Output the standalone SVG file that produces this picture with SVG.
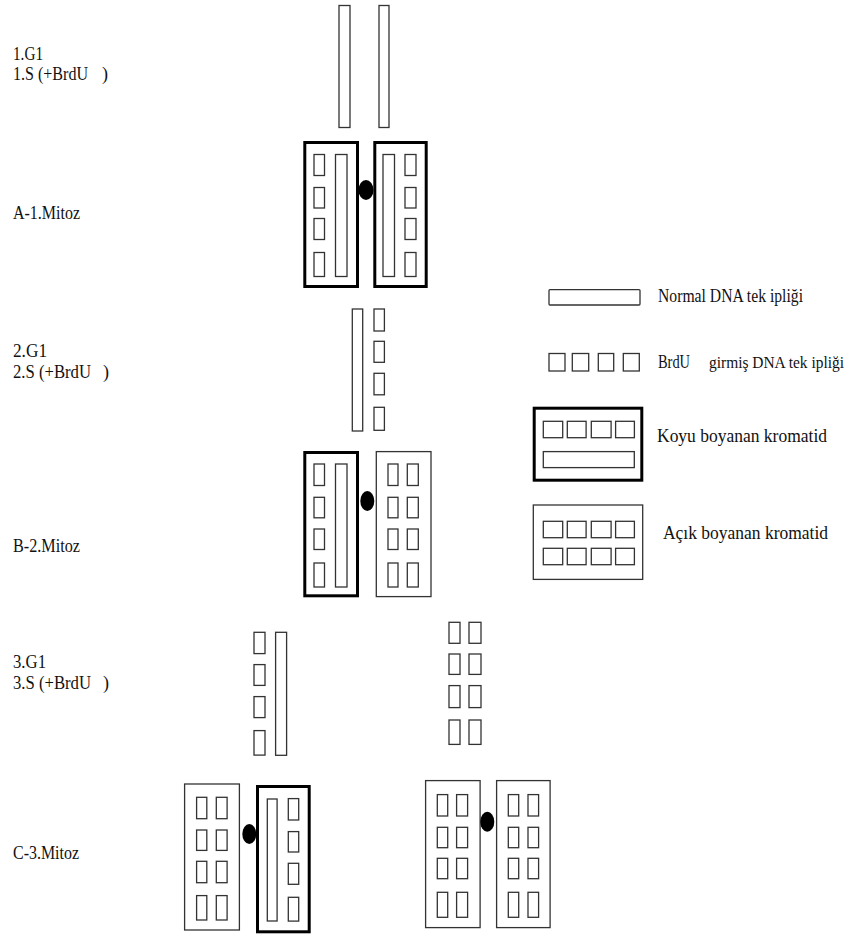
<svg xmlns="http://www.w3.org/2000/svg" width="851" height="935" viewBox="0 0 851 935">
<style>
.s{fill:#fff;stroke:#333;stroke-width:1.3}
.k{fill:#fff;stroke:#000;stroke-width:3}
.d{fill:#000}
text{font-family:"Liberation Serif","Times New Roman",serif;font-size:18px;fill:#111}
</style>
<rect width="851" height="935" fill="#fff"/>
<g id="labels">
<text x="13" y="60" textLength="30" lengthAdjust="spacingAndGlyphs">1.G1</text>
<text x="13" y="80"><tspan textLength="75" lengthAdjust="spacingAndGlyphs">1.S (+BrdU</tspan><tspan x="102">)</tspan></text>
<text x="13" y="219" textLength="67" lengthAdjust="spacingAndGlyphs">A-1.Mitoz</text>
<text x="13" y="357" textLength="34" lengthAdjust="spacingAndGlyphs">2.G1</text>
<text x="13" y="378"><tspan textLength="78" lengthAdjust="spacingAndGlyphs">2.S (+BrdU</tspan><tspan x="103">)</tspan></text>
<text x="13" y="552" textLength="67" lengthAdjust="spacingAndGlyphs">B-2.Mitoz</text>
<text x="13" y="668" textLength="33" lengthAdjust="spacingAndGlyphs">3.G1</text>
<text x="13" y="689"><tspan textLength="78" lengthAdjust="spacingAndGlyphs">3.S (+BrdU</tspan><tspan x="103">)</tspan></text>
<text x="13" y="859" textLength="66" lengthAdjust="spacingAndGlyphs">C-3.Mitoz</text>
</g>
<g id="stage1-strands">
<rect class="s" x="339" y="5.5" width="11" height="122"/>
<rect class="s" x="379" y="5.5" width="10" height="122"/>
</g>
<g id="mitoz-A1">
<rect class="k" x="304.8" y="142.5" width="52.7" height="144"/>
<rect class="s" x="314" y="154.5" width="10.5" height="21"/>
<rect class="s" x="314" y="187.5" width="10.5" height="20.5"/>
<rect class="s" x="314" y="218.5" width="10.5" height="21"/>
<rect class="s" x="314" y="252.5" width="10.5" height="24"/>
<rect class="s" x="335.5" y="154.5" width="11.5" height="122"/>
<rect class="k" x="374.8" y="142.5" width="51.4" height="144"/>
<rect class="s" x="383" y="154.5" width="11.5" height="122"/>
<rect class="s" x="405" y="154.5" width="11" height="21"/>
<rect class="s" x="405" y="187.5" width="11" height="20.5"/>
<rect class="s" x="405" y="218.5" width="11" height="21"/>
<rect class="s" x="405" y="252.5" width="11" height="24"/>
<ellipse class="d" cx="366" cy="190" rx="7.5" ry="10"/>
</g>
<g id="stage2-strands">
<rect class="s" x="352.3" y="309" width="10.4" height="122"/>
<rect class="s" x="374" y="309" width="10.4" height="22"/>
<rect class="s" x="374" y="341.3" width="10.4" height="21"/>
<rect class="s" x="374" y="373.3" width="10.4" height="21.5"/>
<rect class="s" x="374" y="407.3" width="10.4" height="23"/>
</g>
<g id="mitoz-B2">
<rect class="k" x="304.8" y="452.5" width="52.7" height="143.3"/>
<rect class="s" x="314" y="464" width="10.5" height="21.5"/>
<rect class="s" x="314" y="497.3" width="10.5" height="20.5"/>
<rect class="s" x="314" y="529" width="10.5" height="20.5"/>
<rect class="s" x="314" y="563" width="10.5" height="24"/>
<rect class="s" x="335.5" y="464" width="11.5" height="123"/>
<rect class="s" x="376.3" y="451.6" width="54.7" height="145"/>
<rect class="s" x="388" y="464" width="10" height="21.5"/>
<rect class="s" x="388" y="497.3" width="10" height="20.5"/>
<rect class="s" x="388" y="529" width="10" height="20.5"/>
<rect class="s" x="388" y="563" width="10" height="24"/>
<rect class="s" x="407.3" y="464" width="11" height="21.5"/>
<rect class="s" x="407.3" y="497.3" width="11" height="20.5"/>
<rect class="s" x="407.3" y="529" width="11" height="20.5"/>
<rect class="s" x="407.3" y="563" width="11" height="24"/>
<ellipse class="d" cx="367.3" cy="501" rx="7" ry="10"/>
</g>
<g id="stage3-strands-left">
<rect class="s" x="254" y="632.3" width="11" height="21.3"/>
<rect class="s" x="254" y="664.6" width="11" height="20.8"/>
<rect class="s" x="254" y="696.6" width="11" height="21"/>
<rect class="s" x="254" y="730.6" width="11" height="24.5"/>
<rect class="s" x="275.6" y="632.3" width="11" height="123"/>
</g>
<g id="stage3-strands-right">
<rect class="s" x="449" y="622.3" width="11" height="21"/>
<rect class="s" x="449" y="654" width="11" height="20.4"/>
<rect class="s" x="449" y="685.6" width="11" height="22"/>
<rect class="s" x="449" y="720" width="11" height="24.4"/>
<rect class="s" x="469" y="622.3" width="12" height="21"/>
<rect class="s" x="469" y="654" width="12" height="20.4"/>
<rect class="s" x="469" y="685.6" width="12" height="22"/>
<rect class="s" x="469" y="720" width="12" height="24.4"/>
</g>
<g id="mitoz-C3-left">
<rect class="s" x="184.6" y="784" width="54.8" height="146"/>
<rect class="s" x="196.6" y="797.3" width="10.2" height="21.4"/>
<rect class="s" x="196.6" y="830" width="10.2" height="20.4"/>
<rect class="s" x="196.6" y="861.3" width="10.2" height="21.4"/>
<rect class="s" x="196.6" y="895.6" width="10.2" height="24.4"/>
<rect class="s" x="216.3" y="797.3" width="10.8" height="21.4"/>
<rect class="s" x="216.3" y="830" width="10.8" height="20.4"/>
<rect class="s" x="216.3" y="861.3" width="10.8" height="21.4"/>
<rect class="s" x="216.3" y="895.6" width="10.8" height="24.4"/>
<rect class="k" x="257.5" y="786.5" width="51.7" height="145.3"/>
<rect class="s" x="267.3" y="799" width="9.8" height="122"/>
<rect class="s" x="288.3" y="798.6" width="10.4" height="21.4"/>
<rect class="s" x="288.3" y="831.6" width="10.4" height="20.4"/>
<rect class="s" x="288.3" y="863.3" width="10.4" height="21"/>
<rect class="s" x="288.3" y="897.3" width="10.4" height="23.8"/>
<ellipse class="d" cx="249.3" cy="834" rx="7" ry="10"/>
</g>
<g id="mitoz-C3-right">
<rect class="s" x="425.6" y="780.6" width="54.5" height="147"/>
<rect class="s" x="437.3" y="794.6" width="10.4" height="21.4"/>
<rect class="s" x="437.3" y="827.3" width="10.4" height="20.4"/>
<rect class="s" x="437.3" y="858.3" width="10.4" height="20.4"/>
<rect class="s" x="437.3" y="892.3" width="10.4" height="25"/>
<rect class="s" x="456.6" y="794.6" width="11" height="21.4"/>
<rect class="s" x="456.6" y="827.3" width="11" height="20.4"/>
<rect class="s" x="456.6" y="858.3" width="11" height="20.4"/>
<rect class="s" x="456.6" y="892.3" width="11" height="25"/>
<rect class="s" x="496.6" y="780.6" width="53.5" height="147"/>
<rect class="s" x="508.3" y="794.6" width="10.4" height="21.4"/>
<rect class="s" x="508.3" y="827.3" width="10.4" height="20.4"/>
<rect class="s" x="508.3" y="858.3" width="10.4" height="20.4"/>
<rect class="s" x="508.3" y="892.3" width="10.4" height="25"/>
<rect class="s" x="528" y="794.6" width="10.6" height="21.4"/>
<rect class="s" x="528" y="827.3" width="10.6" height="20.4"/>
<rect class="s" x="528" y="858.3" width="10.6" height="20.4"/>
<rect class="s" x="528" y="892.3" width="10.6" height="25"/>
<ellipse class="d" cx="487.3" cy="821.7" rx="7" ry="10"/>
</g>
<g id="legend-normal">
<rect class="s" x="549" y="289.6" width="91" height="15.4" rx="1"/>
<text x="658" y="302" textLength="145" lengthAdjust="spacingAndGlyphs">Normal DNA tek ipliği</text>
</g>
<g id="legend-brdu">
<rect class="s" x="549" y="353.5" width="16" height="17.5"/>
<rect class="s" x="572.3" y="353.5" width="16.4" height="17.5"/>
<rect class="s" x="598.3" y="353.5" width="15.4" height="17.5"/>
<rect class="s" x="623.3" y="353.5" width="16" height="17.5"/>
<text x="658" y="368" textLength="32" lengthAdjust="spacingAndGlyphs">BrdU</text>
<text x="709" y="368" style="font-size:16.5px" textLength="135" lengthAdjust="spacingAndGlyphs">girmiş DNA tek ipliği</text>
</g>
<g id="legend-koyu">
<rect class="k" x="534.2" y="408.2" width="107.6" height="72"/>
<rect class="s" x="543.3" y="421.3" width="19.4" height="16.4"/>
<rect class="s" x="567.3" y="421.3" width="18.8" height="16.4"/>
<rect class="s" x="591.3" y="421.3" width="19.8" height="16.4"/>
<rect class="s" x="615.6" y="421.3" width="18.8" height="16.4"/>
<rect class="s" x="543.3" y="451.6" width="91" height="16"/>
<text x="657" y="442" textLength="170" lengthAdjust="spacingAndGlyphs">Koyu boyanan kromatid</text>
</g>
<g id="legend-acik">
<rect class="s" x="533.3" y="505" width="109.4" height="74.4"/>
<rect class="s" x="543.3" y="521.3" width="19.4" height="16.4"/>
<rect class="s" x="567.3" y="521.3" width="18.8" height="16.4"/>
<rect class="s" x="591.3" y="521.3" width="19.8" height="16.4"/>
<rect class="s" x="615.6" y="521.3" width="18.8" height="16.4"/>
<rect class="s" x="543.3" y="548.3" width="19.4" height="16.4"/>
<rect class="s" x="567.3" y="548.3" width="18.8" height="16.4"/>
<rect class="s" x="591.3" y="548.3" width="19.8" height="16.4"/>
<rect class="s" x="615.6" y="548.3" width="18.8" height="16.4"/>
<text x="663" y="539" textLength="165" lengthAdjust="spacingAndGlyphs">Açık boyanan kromatid</text>
</g>
<g id="connectors"></g>
</svg>
